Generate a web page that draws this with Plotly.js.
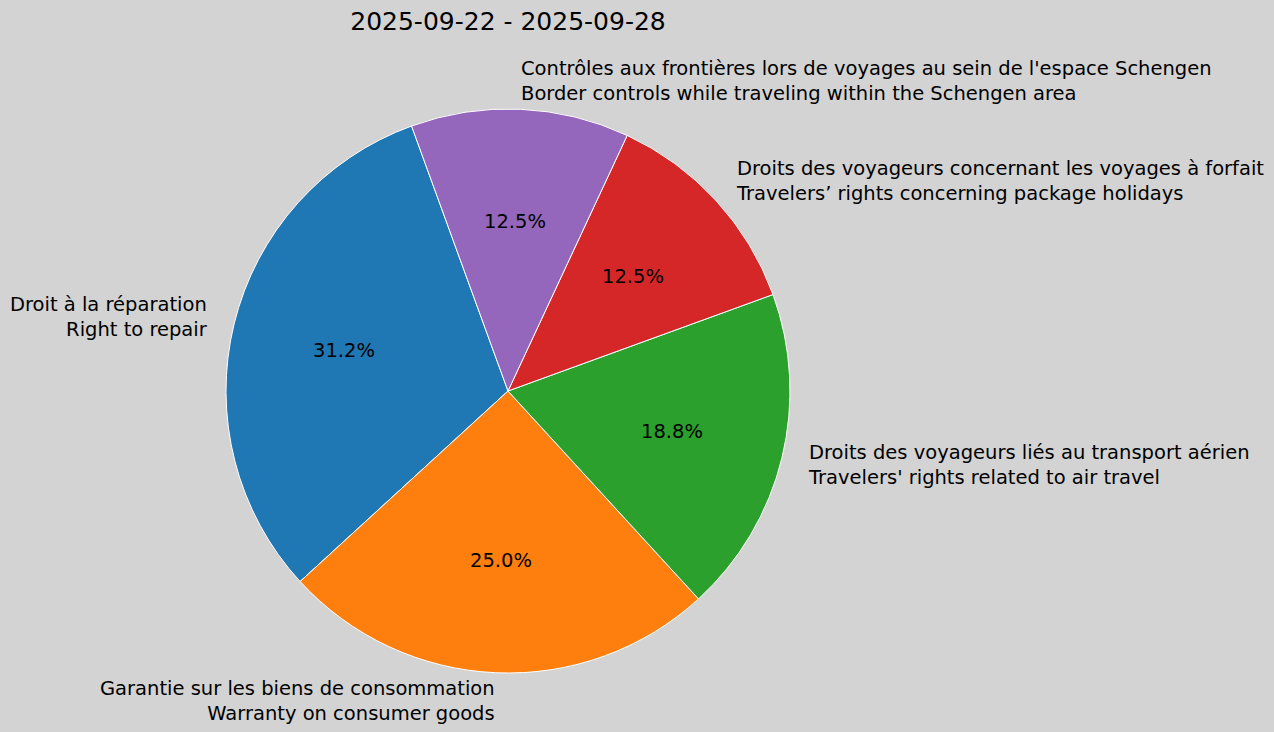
<!DOCTYPE html>
<html>
<head>
<meta charset="utf-8">
<script src="https://cdn.plot.ly/plotly-3.0.1.min.js"></script>
<style>
  html, body { margin: 0; padding: 0; background: #d3d3d3; }
  #pie-chart { width: 1274px; height: 732px; }
</style>
</head>
<body>
<div id="pie-chart"></div>
<script>
// topics of the week, counts (5/16, 4/16, ...)
let topicLabels = [
    'Droit à la réparation<br>Right to repair',
    'Garantie sur les biens de consommation<br>Warranty on consumer goods',
    'Droits des voyageurs liés au transport aérien<br>Travelers\' rights related to air travel',
    'Droits des voyageurs concernant les voyages à forfait<br>Travelers’ rights concerning package holidays',
    'Contrôles aux frontières lors de voyages au sein de l\'espace Schengen<br>Border controls while traveling within the Schengen area'
];
let topicCounts = [5, 4, 3, 2, 2];
let pctLabels = ['31.2%', '25.0%', '18.8%', '12.5%', '12.5%'];
let sliceColors = ['#1f77b4', '#ff7f0e', '#2ca02c', '#d62728', '#9467bd'];
let chartTitle = '2025-09-22 - 2025-09-28';

let startAngle = 110; // degrees, counterclockwise from 3 o'clock

let total = topicCounts.reduce((a, b) => a + b, 0);

// plotly's counterclockwise pie: first slice ends at `rotation` (clockwise from 12 o'clock)
let firstEnd = startAngle + topicCounts[0] / total * 360;

let trace1 = {
    type: 'pie',
    values: topicCounts,
    labels: topicLabels,
    sort: false,
    direction: 'counterclockwise',
    rotation: 90 - firstEnd,
    marker: { colors: sliceColors, line: { color: '#ffffff', width: 1 } },
    textinfo: 'none',
    hoverinfo: 'label+percent',
    showlegend: false
};

// labels placed like matplotlib: name at 1.1 r, percent at 0.6 r
let annotations = [];
let cum = 0;
for (let i = 0; i < topicCounts.length; i++) {
    let mid = (startAngle + (cum + topicCounts[i] / 2) / total * 360) * Math.PI / 180;
    cum += topicCounts[i];
    let cx = Math.cos(mid), cy = Math.sin(mid);
    let side = cx > 0 ? 'left' : 'right';
    annotations.push({
        xref: 'paper', yref: 'paper',
        x: 0.5 + 0.55 * cx, y: 0.5 + 0.55 * cy,
        xshift: side === 'left' ? -3 : 3, // cancel annotation box padding
        text: topicLabels[i],
        showarrow: false,
        xanchor: side, yanchor: 'middle', align: side,
        font: { family: 'DejaVu Sans', size: 19.5, color: '#000000' }
    });
    annotations.push({
        xref: 'paper', yref: 'paper',
        x: 0.5 + 0.3 * cx, y: 0.5 + 0.3 * cy,
        text: pctLabels[i],
        showarrow: false,
        xanchor: 'center', yanchor: 'middle',
        font: { family: 'DejaVu Sans', size: 19.5, color: '#000000' }
    });
}

let layout = {
    width: 1274,
    height: 732,
    paper_bgcolor: '#d3d3d3',
    plot_bgcolor: '#d3d3d3',
    margin: { l: 226, r: 484, t: 109, b: 59 },
    title: {
        text: chartTitle,
        xref: 'paper', x: 0.5, xanchor: 'center',
        yref: 'container', y: 1 - 21 / 732, yanchor: 'middle',
        font: { family: 'DejaVu Sans', size: 25, color: '#000000' }
    },
    annotations: annotations
};

Plotly.newPlot('pie-chart', [trace1], layout, { displayModeBar: false, staticPlot: true });
</script>
</body>
</html>
